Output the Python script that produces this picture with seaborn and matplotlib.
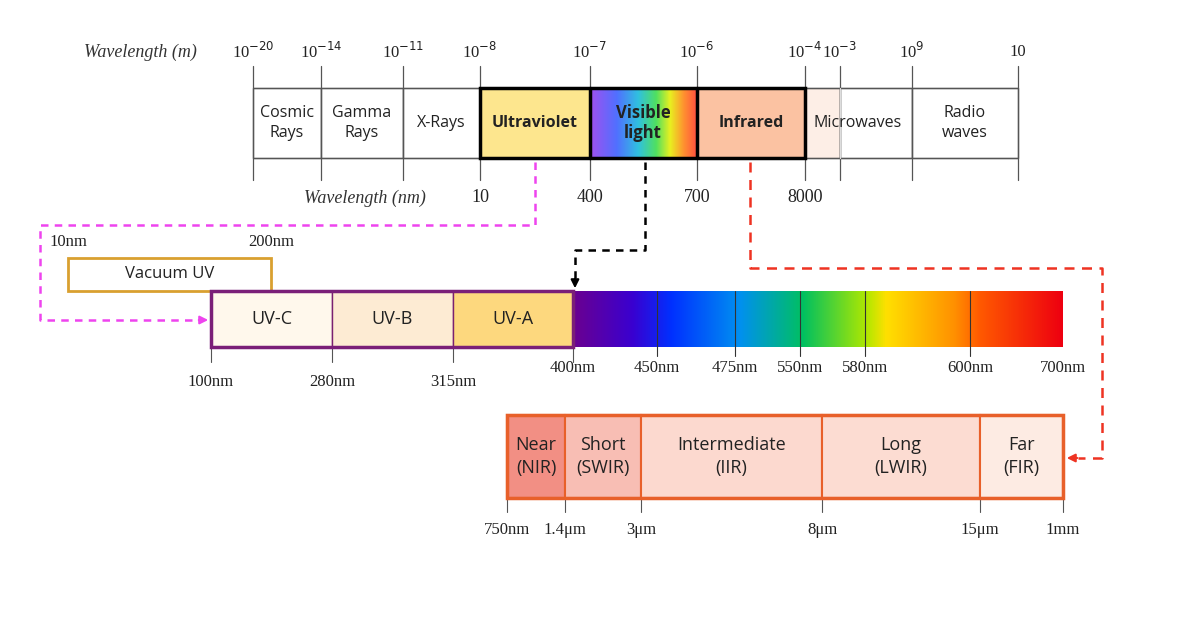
import numpy as np
import seaborn as sns
import matplotlib.pyplot as plt
from matplotlib.colors import LinearSegmentedColormap

sns.set_theme(style="white")

# --- data (pixel layout of the diagram) ---
top_edges = [253, 321, 403, 480, 590, 697, 805, 840, 912, 1018]
top_exp = ["10$^{-20}$", "10$^{-14}$", "10$^{-11}$", "10$^{-8}$", "10$^{-7}$",
           "10$^{-6}$", "10$^{-4}$", "10$^{-3}$", "10$^{9}$", "10"]
top_names = ["Cosmic\nRays", "Gamma\nRays", "X-Rays", "Ultraviolet", "",
             "Infrared", "", "", "Radio\nwaves"]
top_colors = ["white", "white", "white", "#fde68e", None, "#fbc2a2", "#fdeee6", "white", "white"]
nm_pos = [480, 590, 697, 805]
nm_labels = ["10", "400", "700", "8000"]

vac_edges = [68, 271]
vac_labels = ["10nm", "200nm"]

uv_edges = [211, 332, 453, 573]
uv_names = ["UV-C", "UV-B", "UV-A"]
uv_colors = ["#fff8ec", "#fdebd3", "#fdd87e"]
uv_labels = ["100nm", "280nm", "315nm"]

vis_edges = [573, 657, 735, 800, 865, 970, 1063]
vis_labels = ["400nm", "450nm", "475nm", "550nm", "580nm", "600nm", "700nm"]

ir_edges = [507, 565, 641, 822, 980, 1063]
ir_names = ["Near\n(NIR)", "Short\n(SWIR)", "Intermediate\n(IIR)", "Long\n(LWIR)", "Far\n(FIR)"]
ir_colors = ["#f28f84", "#f8beb4", "#fcd9cf", "#fcdcd2", "#fdebe3"]
ir_labels = ["750nm", "1.4μm", "3μm", "8μm", "15μm", "1mm"]

spec = LinearSegmentedColormap.from_list("spec", [
    (0.0, "#6a0090"), (0.12, "#3a00d0"), (0.2, "#0030ff"), (0.34, "#0090f0"),
    (0.47, "#00c060"), (0.6, "#b0e800"), (0.64, "#ffe000"), (0.78, "#ff9000"),
    (0.83, "#ff5a00"), (1.0, "#ee0010")])
vis_top = LinearSegmentedColormap.from_list("vis", [
    (0.0, "#a050f0"), (0.25, "#5070ff"), (0.45, "#30c0e0"), (0.62, "#50e060"),
    (0.75, "#e8f020"), (0.88, "#ff9030"), (1.0, "#ff5040")])

serif = "Liberation Serif"
sans = "Open Sans"

fig = plt.figure(figsize=(11.92, 6.24), dpi=100)
ax = fig.add_axes([0, 0, 1, 1])
ax.set_xlim(0, 1192)
ax.set_ylim(624, 0)
ax.axis("off")


def row(ax, edges, y0, y1, colors, names, fs=12, lw=1.0, ec="#555555", bold=()):
    left = np.array(edges[:-1])
    width = np.diff(edges)
    for l, w, c, n in zip(left, width, colors, names):
        if c is not None:
            ax.barh((y0 + y1) / 2, w, height=y1 - y0, left=l, color=c,
                    edgecolor=ec, linewidth=lw, align="center")
        if n:
            ax.text(l + w / 2, (y0 + y1) / 2, n, ha="center", va="center",
                    fontsize=fs, family=sans, color="#222222", linespacing=1.3,
                    weight="bold" if n in bold else "normal", zorder=5)


# --- top spectrum ---
for x in top_edges:
    ax.plot([x, x], [66, 180], color="#555555", lw=0.9)
ax.plot([253, 1018], [88, 88], color="#555555", lw=0.9)
ax.plot([253, 1018], [158, 158], color="#555555", lw=0.9)
row(ax, top_edges, 88, 158, top_colors, top_names, fs=11.5,
    bold=("Ultraviolet", "Infrared"))
ax.plot([840, 840], [88, 158], color="#dddddd", lw=0.9, zorder=3)
ax.text(858, 123, "Microwaves", ha="center", va="center", fontsize=11.5,
        family=sans, color="#222222", zorder=5)
grad = np.linspace(0, 1, 256)[None, :]
ax.imshow(grad, cmap=vis_top, extent=[590, 697, 158, 88], aspect="auto", zorder=2)
ax.text(643, 123, "Visible\nlight", ha="center", va="center", fontsize=12,
        family=sans, weight="bold", color="#222222", zorder=5, linespacing=1.2)
ax.add_patch(plt.Rectangle((480, 88), 325, 70, fill=False, ec="black", lw=2.5, zorder=4))
for x in [590, 697]:
    ax.plot([x, x], [88, 158], color="black", lw=2.5, zorder=4)
for x, s in zip(top_edges, top_exp):
    ax.text(x, 52, s, ha="center", va="center", fontsize=12, family=serif, color="#222222")
ax.text(140, 52, "Wavelength (m)", ha="center", va="center", fontsize=13,
        family=serif, style="italic", color="#333333")
ax.text(365, 198, "Wavelength (nm)", ha="center", va="center", fontsize=13,
        family=serif, style="italic", color="#333333")
for x, s in zip(nm_pos, nm_labels):
    ax.text(x, 198, s, ha="center", va="center", fontsize=13, family=serif, color="#222222")

# --- connectors ---
ax.plot([535, 535, 40, 40, 200], [162, 225, 225, 320, 320], color="#ee44ee", lw=1.8, ls=(0, (3, 2.5)))
ax.annotate("", xy=(211, 320), xytext=(196, 320),
            arrowprops=dict(arrowstyle="-|>", color="#ee44ee", lw=1.5))
ax.plot([645, 645, 575, 575], [162, 250, 250, 278], color="black", lw=1.8, ls=(0, (3, 2.5)))
ax.annotate("", xy=(575, 291), xytext=(575, 276),
            arrowprops=dict(arrowstyle="-|>", color="black", lw=1.5))
ax.plot([750, 750, 1102, 1102, 1078], [162, 268, 268, 458, 458], color="#ee3322", lw=1.8, ls=(0, (4, 3)))
ax.annotate("", xy=(1064, 458), xytext=(1080, 458),
            arrowprops=dict(arrowstyle="-|>", color="#ee3322", lw=1.5))

# --- vacuum UV ---
row(ax, vac_edges, 258, 291, ["white"], ["Vacuum UV"], fs=12, lw=2, ec="#d9a030")
for x, s in zip(vac_edges, vac_labels):
    ax.text(x, 242, s, ha="center", va="center", fontsize=12, family=serif, color="#222222")

# --- UV + visible ---
row(ax, uv_edges, 291, 347, uv_colors, uv_names, fs=13, lw=1.0, ec="#7a2070")
ax.add_patch(plt.Rectangle((211, 291), 362, 56, fill=False, ec="#7a1f78", lw=2.5, zorder=4))
for x in uv_edges:
    ax.plot([x, x], [347, 362], color="#555555", lw=0.8)
for x, s in zip(uv_edges[:-1], uv_labels):
    ax.text(x, 382, s, ha="center", va="center", fontsize=12, family=serif, color="#222222")
ax.imshow(grad, cmap=spec, extent=[573, 1063, 347, 291], aspect="auto", zorder=2)
for x in vis_edges[1:-1]:
    ax.plot([x, x], [291, 356], color="#333333", lw=0.8, zorder=3)
for x, s in zip(vis_edges, vis_labels):
    ax.text(x, 368, s, ha="center", va="center", fontsize=12, family=serif, color="#222222")

# --- infrared ---
row(ax, ir_edges, 415, 498, ir_colors, ir_names, fs=13, lw=1.5, ec="#e8602a")
ax.add_patch(plt.Rectangle((507, 415), 556, 83, fill=False, ec="#e8602a", lw=2.5, zorder=4))
for x in ir_edges:
    ax.plot([x, x], [498, 512], color="#555555", lw=0.8)
for x, s in zip(ir_edges, ir_labels):
    ax.text(x, 530, s, ha="center", va="center", fontsize=12, family=serif, color="#222222")

fig.savefig("out.png", dpi=100)
